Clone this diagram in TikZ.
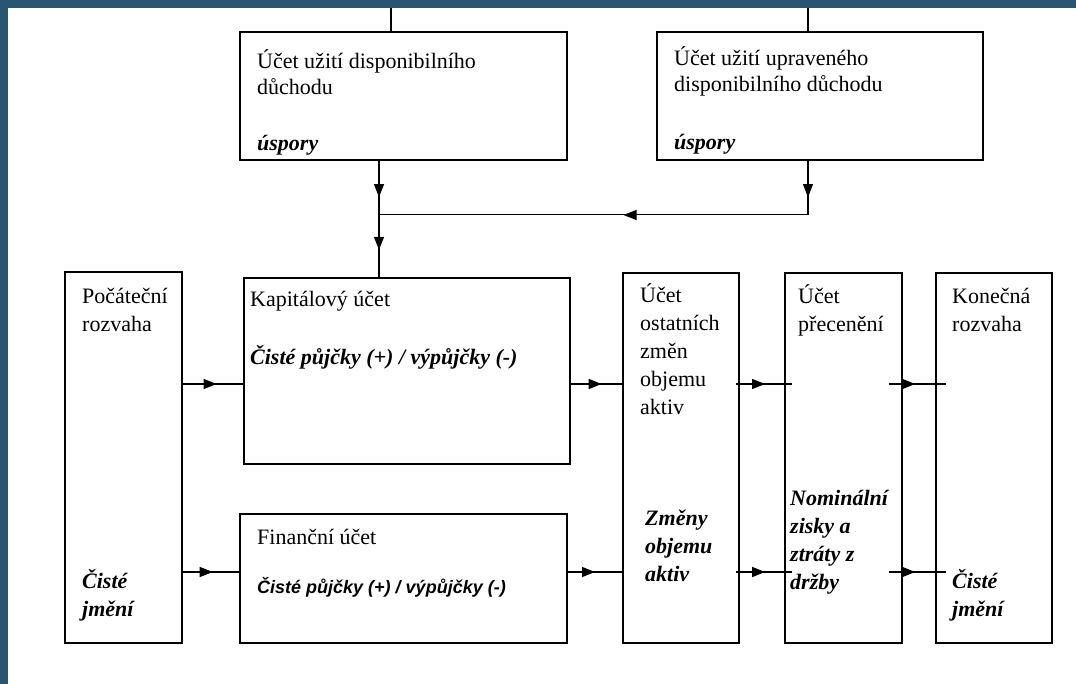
\documentclass[tikz,border=0pt]{standalone}
\usepackage{fontspec}
\setmainfont{Liberation Serif}
\newfontfamily\finsans{Liberation Sans}
\usetikzlibrary{arrows.meta,decorations.markings,positioning}
\definecolor{bgblue}{RGB}{40,86,114}

\begin{document}
\begin{tikzpicture}
[x=1pt,y=-1pt,
every node/.style={inner sep=0pt,font=\fontsize{22}{28}\selectfont},
acct/.style={draw,rectangle,line width=1.6pt},
txt/.style={anchor=base west,align=left},
bi/.style={txt,font=\fontsize{22}{28}\selectfont\bfseries\itshape},
flow/.style={line width=1.4pt},
midarrow/.style={postaction={decorate},decoration={markings,
  mark=at position #1 with {\arrow{Triangle[length=13pt,width=10pt]}}}}]
\fill[bgblue] (0,0) rectangle (1076,684);
\fill[white] (8,8) rectangle (1076,684);
\node[acct,minimum width=327pt,minimum height=128pt] (usedisp) at (403.5,96) {};
\node[acct,minimum width=326pt,minimum height=128pt] (useadj) at (820,96) {};
\node[acct,minimum width=117pt,minimum height=371pt] (opening) at (123.5,457.5) {};
\node[acct,minimum width=326pt,minimum height=186pt] (capital) at (407,371) {};
\node[acct,minimum width=327pt,minimum height=129pt] (financial) at (403.5,578.5) {};
\node[acct,minimum width=116pt,minimum height=370pt] (othervol) at (681,458) {};
\node[acct,minimum width=117pt,minimum height=370pt] (revalue) at (843.5,458) {};
\node[acct,minimum width=116pt,minimum height=370pt] (closing) at (994,458) {};
% multi-line texts sit on the baseline of their last line
\node[txt,font=\fontsize{22}{26}\selectfont] (usedisp-t) at (257,95) {Účet užití disponibilního\\důchodu};
\node[bi] (usedisp-s) at (257,151) {úspory};
\node[txt,font=\fontsize{22}{26}\selectfont] (useadj-t) at (674,92) {Účet užití upraveného\\disponibilního důchodu};
\node[bi] (useadj-s) at (674,150) {úspory};
\node[txt] (opening-t) at (82,332) {Počáteční\\rozvaha};
\node[bi] (opening-s) at (82,616) {Čisté\\jmění};
\node[txt] (capital-t) at (250,307) {Kapitálový účet};
\node[bi] (capital-s) at (250,365) {Čisté půjčky (+) / výpůjčky (-)};
\node[txt] (financial-t) at (257,544) {Finanční účet};
\node[txt,font=\fontsize{18}{22}\selectfont\finsans\bfseries\itshape] (financial-s) at (257,593) {Čisté půjčky (+) / výpůjčky (-)};
\node[txt] (othervol-t) at (640,414) {Účet\\ostatních\\změn\\objemu\\aktiv};
\node[bi] (othervol-s) at (645,581) {Změny\\objemu\\aktiv};
\node[txt] (revalue-t) at (798,332) {Účet\\přecenění};
\node[bi] (revalue-s) at (790,589) {Nominální\\zisky a\\ztráty z\\držby};
\node[txt] (closing-t) at (952,332) {Konečná\\rozvaha};
\node[bi] (closing-s) at (952,616) {Čisté\\jmění};
\coordinate (topL) at (391,8);
\coordinate (topR) at (808,8);
\coordinate (joinL) at (379,215);
\coordinate (joinR) at (808,215);
\coordinate (rowA) at (0,384);
\coordinate (rowB) at (0,572);
\draw[flow] (topL) -- (topL |- usedisp.north);
\draw[flow] (topR) -- (topR |- useadj.north);
\draw[flow,midarrow=0.67] (joinL |- usedisp.south) -- (joinL);
\draw[flow,midarrow=0.56] (joinL) -- (joinL |- capital.north);
\draw[flow,midarrow=0.67] (joinR |- useadj.south) -- (joinR);
\draw[line width=1pt,midarrow=0.43] (joinR) -- (joinL);
\draw[flow,midarrow=0.56] (opening.east |- rowA) -- (capital.west |- rowA);
\draw[flow,midarrow=0.6] (capital.east |- rowA) -- (othervol.west |- rowA);
\draw[flow,midarrow=0.52] ([xshift=-4pt]othervol.east |- rowA) -- ([xshift=8pt]revalue.west |- rowA);
\draw[flow,midarrow=0.46] ([xshift=-14pt]revalue.east |- rowA) -- ([xshift=11pt]closing.west |- rowA);
\draw[flow,midarrow=0.53] (opening.east |- rowB) -- (financial.west |- rowB);
\draw[flow,midarrow=0.5] (financial.east |- rowB) -- (othervol.west |- rowB);
\draw[flow,midarrow=0.52] ([xshift=-4pt]othervol.east |- rowB) -- ([xshift=8pt]revalue.west |- rowB);
\draw[flow,midarrow=0.46] ([xshift=-14pt]revalue.east |- rowB) -- ([xshift=11pt]closing.west |- rowB);
\end{tikzpicture}
\end{document}
